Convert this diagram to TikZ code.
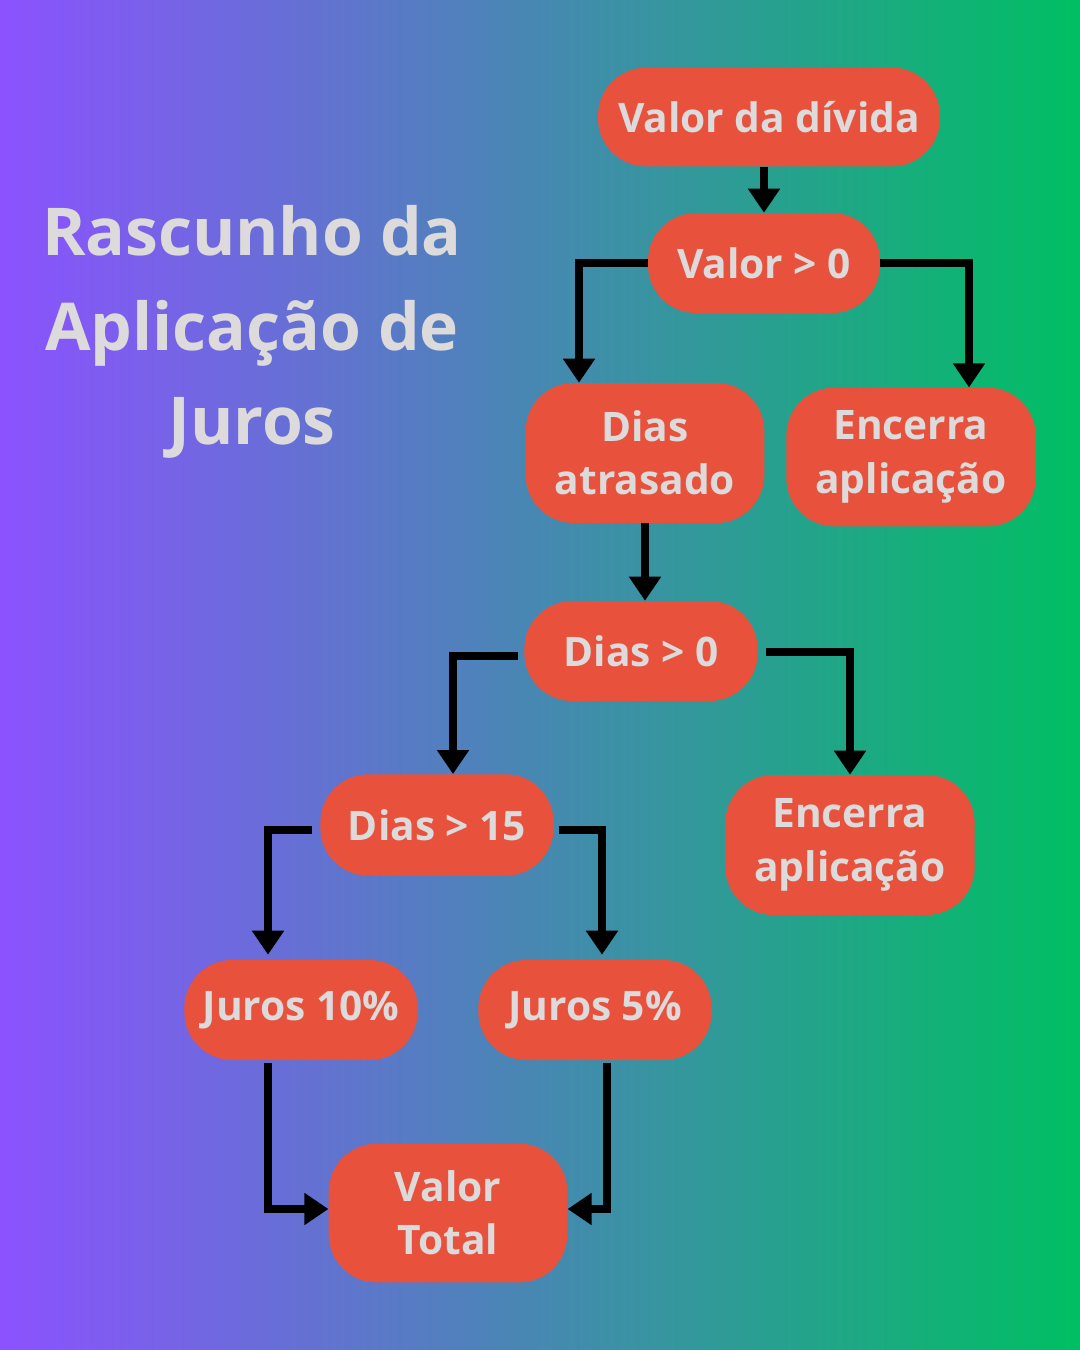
\documentclass[tikz,border=0pt]{standalone}
\usepackage{fontspec}
\setmainfont{Open Sans}
\usetikzlibrary{arrows.meta,calc}
\definecolor{gleft}{HTML}{8C52FF}
\definecolor{gright}{HTML}{00BF63}
\definecolor{boxred}{HTML}{E8523D}
\definecolor{txt}{HTML}{DCDADA}
\tikzset{
  flowbox/.style={fill=boxred, rounded corners=36pt, inner sep=0pt, text=txt,
    font=\fontsize{30.5}{40}\selectfont\bfseries, align=center},
  conn/.style={draw=black, line width=6pt, -{Triangle[length=18pt,width=23pt]}},
}
\begin{document}
\begin{tikzpicture}[x=0.75pt,y=-0.75pt]
\shade[left color=gleft,right color=gright] (0,0) rectangle (1080,1350);
\useasboundingbox (0,0) rectangle (1080,1350);

\node[text=txt, font=\fontsize{49.5}{71}\selectfont\bfseries, align=center] (title) at (252,332)
  {Rascunho da\\Aplicação de\\Juros};

\node[flowbox, minimum width=256.5pt, minimum height=74pt] (v0) at (769,117) {Valor da dívida};
\node[flowbox, minimum width=174pt, minimum height=75pt] (v1) at (764,263) {Valor > 0};
\node[flowbox, minimum width=179pt, minimum height=105pt] (da) at (645,453) {Dias\\atrasado};
\node[flowbox, minimum width=187pt, minimum height=104pt] (e1) at (911,457) {Encerra\\aplicação};
\node[flowbox, minimum width=175pt, minimum height=75pt] (d0) at (641,651) {Dias > 0};
\node[flowbox, minimum width=187pt, minimum height=105pt] (e2) at (850,845) {Encerra\\aplicação};
\node[flowbox, minimum width=175pt, minimum height=76pt] (d15) at (437,825) {Dias > 15};
\node[flowbox, minimum width=175pt, minimum height=75pt] (j10) at (301,1010) {Juros 10\%};
\node[flowbox, minimum width=175pt, minimum height=75pt] (j5) at (595,1010) {Juros 5\%};
\node[flowbox, minimum width=179pt, minimum height=104pt] (vt) at (448,1213) {Valor\\Total};

\draw[conn] (v1.north |- v0.south) -- (v1.north);
\draw[conn] (v1.west) -| ($(da.north)+(-66,0)$);
\draw[conn] (v1.east) -| ($(e1.north)+(58,0)$);
\draw[conn] (da.south) -- (da.south |- d0.north);
\draw[conn] ($(d0.west)+(-6,5)$) -| ($(d15.north)+(16,0)$);
\draw[conn] ($(d0.east)+(8,1)$) -| (e2.north);
\draw[conn] ($(d15.west)+(-8,5)$) -| ($(j10.north)+(-33,-5)$);
\draw[conn] ($(d15.east)+(5,5)$) -| ($(j5.north)+(7,-5)$);
\draw[conn] ($(j10.south)+(-33,3)$) |- ($(vt.west)+(0,-4)$);
\draw[conn] ($(j5.south)+(12,3)$) |- ($(vt.east)+(0,-4)$);
\end{tikzpicture}
\end{document}
